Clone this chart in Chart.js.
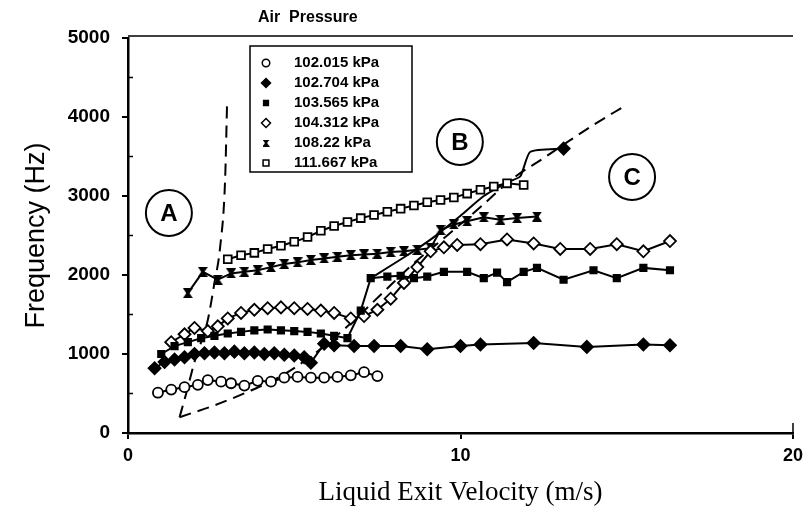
<!DOCTYPE html>
<html>
<head>
<meta charset="utf-8">
<script src="https://cdn.jsdelivr.net/npm/chart.js@4.4.1/dist/chart.umd.min.js"></script>
<style>
  html, body { margin: 0; padding: 0; background: #fff; }
  #wrap { width: 812px; height: 515px; }
</style>
</head>
<body>
<div id="wrap"><canvas id="freqChart" width="812" height="515"></canvas></div>
<script>
// air pressure labels (legend)
var pressureLabels = ['102.015 kPa', '102.704 kPa', '103.565 kPa', '104.312 kPa', '108.22 kPa', '111.667 kPa'];

// 102.015 kPa - open circles
var vel102015 = [0.9, 1.3, 1.7, 2.1, 2.4, 2.8, 3.1, 3.5, 3.9, 4.3, 4.7, 5.1, 5.5, 5.9, 6.3, 6.7, 7.1, 7.5];
var freq102015 = [510, 550, 580, 610, 670, 650, 630, 600, 660, 650, 700, 710, 700, 700, 710, 730, 770, 720];

// 102.704 kPa - filled diamonds
var vel102704 = [0.8, 1.1, 1.4, 1.7, 2.0, 2.3, 2.6, 2.9, 3.2, 3.5, 3.8, 4.1, 4.4, 4.7, 5.0, 5.3, 5.5, 5.9, 6.2, 6.8, 7.4, 8.2, 9.0, 10.0, 10.6, 12.2, 13.8, 15.5, 16.3];
var freq102704 = [820, 900, 930, 960, 1000, 1010, 1020, 1010, 1030, 1010, 1020, 1000, 1010, 990, 980, 960, 890, 1130, 1110, 1100, 1100, 1100, 1060, 1100, 1120, 1140, 1090, 1120, 1110];

// 103.565 kPa - small filled squares
var vel103565 = [1.0, 1.4, 1.8, 2.2, 2.6, 3.0, 3.4, 3.8, 4.2, 4.6, 5.0, 5.4, 5.8, 6.2, 6.6, 7.0, 7.3, 7.8, 8.2, 8.6, 9.0, 9.5, 10.2, 10.7, 11.1, 11.4, 11.9, 12.3, 13.1, 14.0, 14.7, 15.5, 16.3];
var freq103565 = [1000, 1100, 1150, 1200, 1230, 1260, 1280, 1300, 1310, 1300, 1290, 1280, 1260, 1230, 1200, 1550, 1960, 1980, 1990, 1960, 1980, 2040, 2040, 1960, 2030, 1910, 2040, 2090, 1940, 2060, 1960, 2090, 2060];

// 104.312 kPa - open diamonds
var vel104312 = [1.3, 1.7, 2.0, 2.4, 2.7, 3.0, 3.4, 3.8, 4.2, 4.6, 5.0, 5.4, 5.8, 6.2, 6.7, 7.1, 7.5, 7.9, 8.3, 8.7, 9.1, 9.5, 9.9, 10.6, 11.4, 12.2, 13.0, 13.9, 14.7, 15.5, 16.3];
var freq104312 = [1150, 1250, 1330, 1290, 1350, 1450, 1520, 1560, 1580, 1590, 1580, 1570, 1550, 1520, 1450, 1480, 1560, 1700, 1900, 2100, 2300, 2350, 2380, 2390, 2450, 2400, 2330, 2330, 2390, 2300, 2430];

// 108.22 kPa - hourglass markers
var vel10822 = [1.8, 2.25, 2.7, 3.1, 3.5, 3.9, 4.3, 4.7, 5.1, 5.5, 5.9, 6.3, 6.7, 7.1, 7.5, 7.9, 8.3, 8.7, 9.1, 9.4, 9.8, 10.2, 10.7, 11.2, 11.7, 12.3];
var freq10822 = [1770, 2040, 1940, 2020, 2040, 2060, 2100, 2140, 2160, 2190, 2210, 2230, 2250, 2260, 2270, 2290, 2300, 2320, 2340, 2570, 2640, 2680, 2730, 2700, 2720, 2740];

// 111.667 kPa - open squares
var vel111667 = [3.0, 3.4, 3.8, 4.2, 4.6, 5.0, 5.4, 5.8, 6.2, 6.6, 7.0, 7.4, 7.8, 8.2, 8.6, 9.0, 9.4, 9.8, 10.2, 10.6, 11.0, 11.4, 11.9];
var freq111667 = [2200, 2250, 2280, 2330, 2370, 2420, 2480, 2560, 2620, 2670, 2720, 2760, 2800, 2840, 2880, 2920, 2950, 2980, 3030, 3080, 3120, 3160, 3140];

// solid transition curve (region B)
var velTransition = [7.3, 8.4, 9.2, 10.0, 10.7, 11.4, 11.8, 12.1, 13.1];
var freqTransition = [1960, 2250, 2480, 2750, 3000, 3170, 3250, 3560, 3600];

// dashed boundaries
var velBoundLeft = [1.55, 1.75, 2.0, 2.2, 2.4, 2.6, 2.77, 2.92, 2.98];
var freqBoundLeft = [200, 500, 900, 1150, 1430, 1900, 2350, 3200, 4180];
var velBoundRight = [1.55, 2.6, 3.6, 4.6, 5.6, 6.6, 7.6, 8.6, 9.6, 10.6, 11.6, 12.5, 13.1, 14.0, 14.9];
var freqBoundRight = [200, 350, 520, 720, 1000, 1350, 1750, 2150, 2500, 2860, 3230, 3480, 3650, 3900, 4130];

// region labels
var regionNames = ['A', 'B', 'C'];
var regionVel = [1.23, 9.98, 15.16];
var regionFreq = [2785, 3684, 3241];

var xTicks = [0, 10, 20];

function toPoints(xs, ys) {
    return xs.map(function (x, i) { return { x: x, y: ys[i] }; });
}

// hourglass marker (not in chart.js point styles)
function hourglassMarker(size) {
    var c = document.createElement('canvas');
    c.width = size; c.height = size;
    var g = c.getContext('2d');
    g.fillStyle = '#000';
    g.beginPath();
    g.moveTo(0, 0); g.lineTo(size, 0); g.lineTo(size * 0.66, size / 2);
    g.lineTo(size, size); g.lineTo(0, size); g.lineTo(size * 0.34, size / 2);
    g.closePath();
    g.fill();
    return c;
}
var hourglass = hourglassMarker(10);

var markerStyles = [
    { pointStyle: 'circle', radius: 5, fill: '#fff' },
    { pointStyle: 'rectRot', radius: 6, fill: '#000' },
    { pointStyle: 'rect', radius: 4.5, fill: '#000' },
    { pointStyle: 'rectRot', radius: 6, fill: '#fff' },
    { pointStyle: hourglass, radius: 5, fill: '#000' },
    { pointStyle: 'rect', radius: 5.5, fill: '#fff' }
];

function seriesDataset(i, xs, ys) {
    var m = markerStyles[i];
    return {
        label: pressureLabels[i],
        data: toPoints(xs, ys),
        showLine: true,
        borderColor: '#000',
        borderWidth: 2,
        pointStyle: m.pointStyle,
        pointRadius: m.radius,
        pointBackgroundColor: m.fill,
        pointBorderColor: '#000',
        pointBorderWidth: 1.8,
        tension: 0
    };
}

// legend, region circles, top border, minor ticks
var extrasPlugin = {
    id: 'extras',
    afterDraw: function (chart) {
        var ctx = chart.ctx;
        var area = chart.chartArea;
        var xs = chart.scales.x, ys = chart.scales.y;
        ctx.save();
        ctx.strokeStyle = '#000';
        ctx.fillStyle = '#000';

        // top frame line
        ctx.lineWidth = 1.5;
        ctx.beginPath();
        ctx.moveTo(area.left, area.top - 2);
        ctx.lineTo(area.right, area.top - 2);
        ctx.stroke();

        // minor y ticks
        ctx.lineWidth = 1.5;
        for (var v = 500; v < 5000; v += 1000) {
            var py = ys.getPixelForValue(v);
            ctx.beginPath();
            ctx.moveTo(area.left, py);
            ctx.lineTo(area.left + 5, py);
            ctx.stroke();
        }
        // x tick at 20 goes upward a little
        ctx.beginPath();
        ctx.moveTo(area.right, area.bottom);
        ctx.lineTo(area.right, area.bottom - 10);
        ctx.stroke();

        // region circles
        ctx.lineWidth = 2;
        ctx.font = 'bold 24px "Liberation Sans", Arial, sans-serif';
        ctx.textAlign = 'center';
        ctx.textBaseline = 'middle';
        regionNames.forEach(function (name, i) {
            var cx = xs.getPixelForValue(regionVel[i]);
            var cy = ys.getPixelForValue(regionFreq[i]);
            ctx.beginPath();
            ctx.arc(cx, cy, 23, 0, Math.PI * 2);
            ctx.stroke();
            ctx.fillText(name, cx, cy + 1);
        });

        // legend
        ctx.textAlign = 'left';
        ctx.font = 'bold 16px "Liberation Sans", Arial, sans-serif';
        ctx.fillText('Air  Pressure', 258, 18);
        ctx.lineWidth = 1.5;
        ctx.strokeRect(250, 46, 162, 126);
        ctx.font = 'bold 15px "Liberation Sans", Arial, sans-serif';
        pressureLabels.forEach(function (label, i) {
            var ly = 63 + i * 20;
            var m = markerStyles[i];
            ctx.fillStyle = '#000';
            ctx.fillText(label, 294, ly);
            drawMarker(ctx, m, 266, ly, 0.75);
        });
        ctx.restore();
    }
};

function drawMarker(ctx, m, x, y, scale) {
    var r = m.radius * scale;
    ctx.save();
    ctx.lineWidth = 1.5;
    ctx.fillStyle = m.fill;
    ctx.strokeStyle = '#000';
    if (typeof m.pointStyle !== 'string') {
        ctx.drawImage(m.pointStyle, x - 3.5, y - 3.5, 7, 7);
    } else {
        ctx.beginPath();
        if (m.pointStyle === 'circle') {
            ctx.arc(x, y, r, 0, Math.PI * 2);
        } else if (m.pointStyle === 'rectRot') {
            ctx.moveTo(x, y - r); ctx.lineTo(x + r, y); ctx.lineTo(x, y + r); ctx.lineTo(x - r, y);
            ctx.closePath();
        } else {
            var s = r * Math.SQRT1_2;
            ctx.rect(x - s, y - s, 2 * s, 2 * s);
        }
        ctx.fill();
        ctx.stroke();
    }
    ctx.restore();
}

var ctx = document.getElementById('freqChart').getContext('2d');
var freqChart = new Chart(ctx, {
    type: 'scatter',
    data: {
        datasets: [
            seriesDataset(0, vel102015, freq102015),
            seriesDataset(1, vel102704, freq102704),
            seriesDataset(2, vel103565, freq103565),
            seriesDataset(3, vel104312, freq104312),
            seriesDataset(4, vel10822, freq10822),
            seriesDataset(5, vel111667, freq111667),
            {
                label: 'transition',
                data: toPoints(velTransition, freqTransition),
                showLine: true,
                borderColor: '#000',
                borderWidth: 2,
                pointStyle: 'rectRot',
                pointRadius: velTransition.map(function (v, i) { return i === velTransition.length - 1 ? 6 : 0; }),
                pointBackgroundColor: '#000',
                pointBorderColor: '#000',
                tension: 0.2
            },
            {
                label: 'boundary left',
                data: toPoints(velBoundLeft, freqBoundLeft),
                showLine: true,
                borderColor: '#000',
                borderWidth: 2,
                borderDash: [12, 7],
                pointRadius: 0,
                cubicInterpolationMode: 'monotone'
            },
            {
                label: 'boundary right',
                data: toPoints(velBoundRight, freqBoundRight),
                showLine: true,
                borderColor: '#000',
                borderWidth: 2,
                borderDash: [12, 7],
                pointRadius: 0,
                cubicInterpolationMode: 'monotone'
            }
        ]
    },
    options: {
        responsive: false,
        animation: false,
        layout: { padding: { top: 38, right: 19, bottom: 0, left: 0 } },
        plugins: {
            legend: { display: false },
            tooltip: { enabled: false }
        },
        scales: {
            x: {
                type: 'linear',
                min: 0,
                max: 20,
                afterFit: function (scale) { scale.height = 82; },
                afterBuildTicks: function (scale) {
                    scale.ticks = xTicks.map(function (v) { return { value: v }; });
                },
                border: { color: '#000', width: 2.5 },
                grid: { drawOnChartArea: false, drawTicks: true, tickLength: 6, color: '#000', lineWidth: 2 },
                ticks: {
                    color: '#000',
                    padding: 6,
                    callback: function (value) { return String(value); },
                    font: { family: '"Liberation Sans", Arial, sans-serif', size: 18, weight: 'bold' }
                },
                title: {
                    display: true,
                    text: 'Liquid Exit Velocity (m/s)',
                    color: '#000',
                    padding: { top: 0, bottom: 6 },
                    font: { family: '"Liberation Serif", "Times New Roman", serif', size: 27 }
                }
            },
            y: {
                type: 'linear',
                min: 0,
                max: 5000,
                afterFit: function (scale) { scale.width = 128; },
                border: { color: '#000', width: 2.5 },
                grid: { drawOnChartArea: false, drawTicks: true, tickLength: 6, color: '#000', lineWidth: 2 },
                ticks: {
                    stepSize: 1000,
                    color: '#000',
                    padding: 12,
                    callback: function (value) { return String(value); },
                    font: { family: '"Liberation Sans", Arial, sans-serif', size: 19, weight: 'bold' }
                },
                title: {
                    display: true,
                    text: 'Frequency (Hz)',
                    color: '#000',
                    padding: { top: 20, bottom: 0 },
                    font: { family: '"Liberation Sans", Arial, sans-serif', size: 27 }
                }
            }
        }
    },
    plugins: [extrasPlugin]
});
</script>
</body>
</html>
